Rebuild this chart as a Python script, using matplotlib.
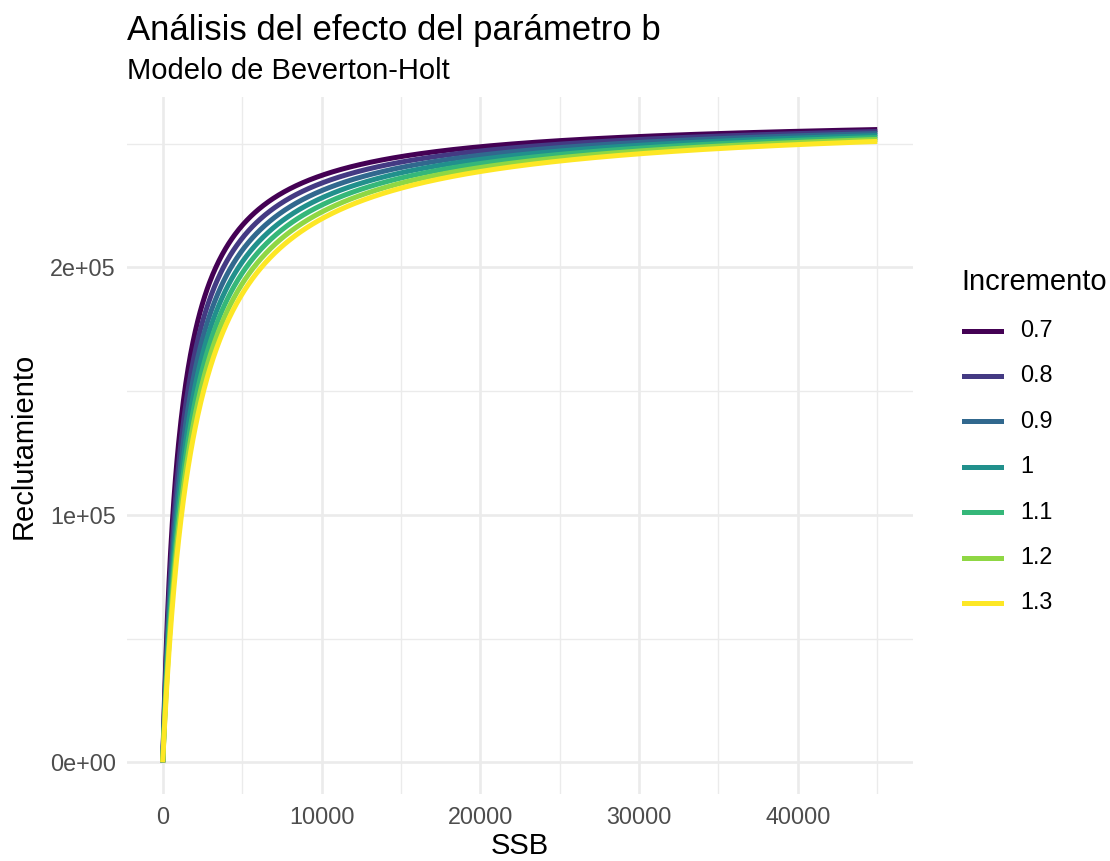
import numpy as np
import matplotlib
matplotlib.use("Agg")
import matplotlib.pyplot as plt
from matplotlib.lines import Line2D
from matplotlib.ticker import MultipleLocator

# ---- data (model parameters) ----
a_param = 261500.0          # asymptotic recruitment
b_param = 1470.0            # half-saturation SSB
incrementos = [0.7, 0.8, 0.9, 1.0, 1.1, 1.2, 1.3]
inc_labels = ["0.7", "0.8", "0.9", "1", "1.1", "1.2", "1.3"]
colores = ["#440154", "#443A83", "#31688E", "#21908C", "#35B779", "#8FD744", "#FDE725"]
ssb = np.linspace(0, 45000, 901)
x_ticks = [0, 10000, 20000, 30000, 40000]
y_ticks = [0, 100000, 200000]
y_tick_labels = ["0e+00", "1e+05", "2e+05"]

W, H = 1110, 861
plt.rcParams["font.family"] = ["Liberation Sans", "DejaVu Sans"]
fig = plt.figure(figsize=(W / 100, H / 100), dpi=100)

L, R, T, B = 127, 913, 97, 794
ax = fig.add_axes([L / W, 1 - B / H, (R - L) / W, (B - T) / H])

LW = 3.6
for k, lab, c in zip(incrementos, inc_labels, colores):
    rec = a_param * ssb / (b_param * k + ssb)
    ax.plot(ssb, rec, color=c, lw=LW, solid_capstyle="butt", zorder=3)

ax.set_xlim(-2250, 47250)
ax.set_ylim(-12800, 268800)
ax.set_xticks(x_ticks)
ax.set_xticklabels([str(v) for v in x_ticks])
ax.set_yticks(y_ticks)
ax.set_yticklabels(y_tick_labels)
ax.xaxis.set_minor_locator(MultipleLocator(5000))
ax.yaxis.set_minor_locator(MultipleLocator(50000))
ax.grid(which="major", color="#EBEBEB", lw=1.9, zorder=0)
ax.grid(which="minor", color="#EBEBEB", lw=1.0, zorder=0)
for s in ax.spines.values():
    s.set_visible(False)
ax.tick_params(which="both", length=0, labelsize=16.8, labelcolor="#4D4D4D")
ax.tick_params(axis="x", pad=9)
ax.tick_params(axis="y", pad=8)
ax.set_axisbelow(True)

ax.set_xlabel("SSB", fontsize=21, labelpad=2)
ax.set_ylabel("Reclutamiento", fontsize=21, labelpad=9)

fig.text(L / W, 1 - 40 / H, "Análisis del efecto del parámetro b", fontsize=25,
         ha="left", va="baseline")
fig.text(L / W, 1 - 79 / H, "Modelo de Beverton-Holt", fontsize=21,
         ha="left", va="baseline")

# legend
fig.text(961 / W, 1 - 282 / H, "Incremento", fontsize=21, ha="left", va="center")
y0, dy = 330.5, 45.4
for i, (lab, c) in enumerate(zip(inc_labels, colores)):
    yy = 1 - (y0 + i * dy) / H
    fig.add_artist(Line2D([964 / W, 1001 / W], [yy, yy], color=c, lw=LW,
                          transform=fig.transFigure))
    fig.text(1020 / W, yy, lab, fontsize=16.8, ha="left", va="center")

fig.savefig("out.png", dpi=100)
